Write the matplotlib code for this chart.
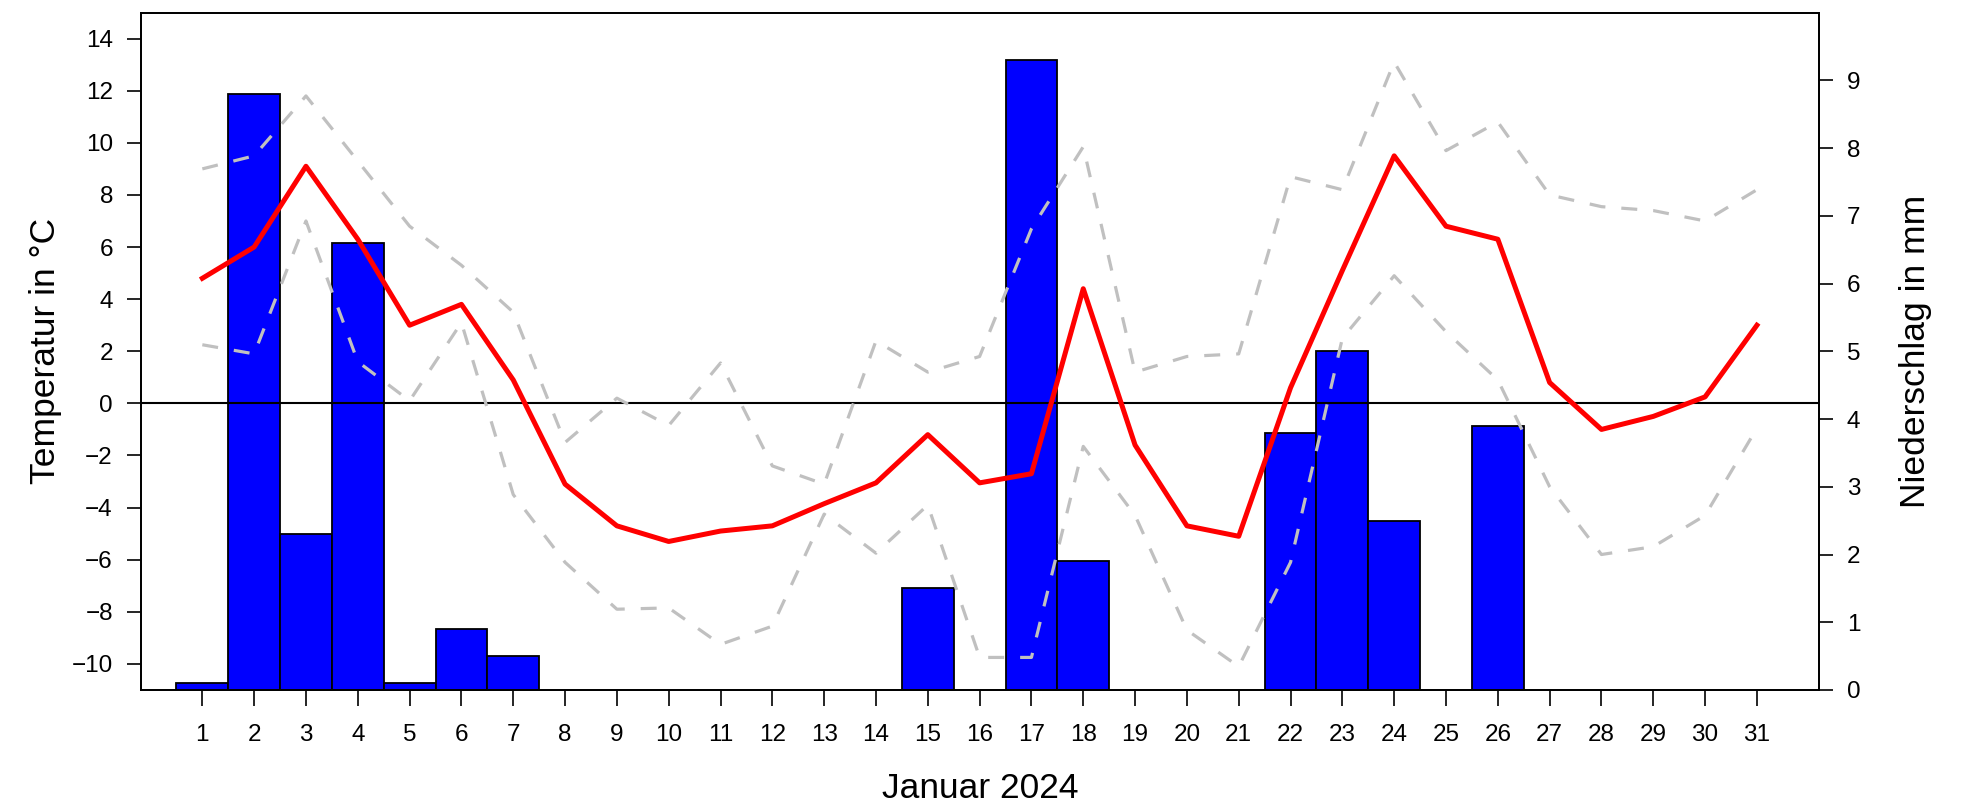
import numpy as np
import matplotlib
matplotlib.use("Agg")
import matplotlib.pyplot as plt

plt.rcParams['font.family'] = ['Liberation Sans', 'DejaVu Sans']

# Tageswerte Januar 2024
days = np.arange(1, 32)
t_mean = [4.8, 6.0, 9.1, 6.3, 3.0, 3.8, 0.9, -3.1, -4.7, -5.3, -4.9, -4.7, -3.85,
          -3.05, -1.2, -3.05, -2.7, 4.4, -1.6, -4.7, -5.1, 0.6, 5.1, 9.5, 6.8,
          6.3, 0.8, -1.0, -0.5, 0.25, 3.0]
t_max = [9.0, 9.5, 11.8, 9.3, 6.8, 5.3, 3.5, -1.5, 0.2, -0.85, 1.55, -2.4, -3.1,
         2.4, 1.2, 1.8, 6.7, 9.85, 1.2, 1.8, 1.9, 8.7, 8.2, 13.1, 9.7, 10.8,
         8.0, 7.55, 7.4, 7.0, 8.2]
t_min = [2.25, 1.9, 7.0, 1.6, 0.1, 3.1, -3.5, -6.1, -7.9, -7.85, -9.25, -8.55,
         -4.25, -5.75, -3.9, -9.75, -9.75, -1.65, -4.3, -8.7, -10.1, -6.1, 2.5,
         4.9, 2.75, 0.9, -3.2, -5.8, -5.5, -4.3, -0.95]
precip = [0.1, 8.8, 2.3, 6.6, 0.1, 0.9, 0.5, 0, 0, 0, 0, 0, 0, 0, 1.5, 0, 9.3,
          1.9, 0, 0, 0, 3.8, 5.0, 2.5, 0, 3.9, 0, 0, 0, 0, 0]

fig = plt.figure(figsize=(19.7, 8.09), dpi=100)
ax = fig.add_axes([0.0714, 0.1471, 0.852, 0.8374])
ax2 = ax.twinx()
ax.set_zorder(ax2.get_zorder() + 1)
ax.patch.set_visible(False)

# Niederschlag als Balken (rechte Achse)
p = np.array(precip)
wet = p > 0
ax2.bar(days[wet], p[wet], width=1.0, color='#0000ff', edgecolor='black',
        linewidth=1.3)
ax2.set_ylim(0, 10)
ax2.set_yticks(range(0, 10))
ax2.set_ylabel('Niederschlag in mm', fontsize=25.5)
ax2.yaxis.set_label_coords(1.0576, 0.5)
ax2.yaxis.label.set_va('center')

# Temperaturen (linke Achse)
ax.axhline(0, color='black', linewidth=1.5, zorder=1)
dash = (0, (5, 5))
ax.plot(days, t_max, color='#c0c0c0', linewidth=2.3, linestyle=dash)
ax.plot(days, t_min, color='#c0c0c0', linewidth=2.3, linestyle=dash)
ax.plot(days, t_mean, color='#ff0000', linewidth=3.6)
ax.set_ylim(-11, 15)
ax.set_yticks(range(-10, 15, 2))
ax.set_xlim(-0.19, 32.2)
ax.set_xticks(days)
ax.set_ylabel('Temperatur in °C', fontsize=25.5)
ax.yaxis.set_label_coords(-0.0566, 0.5)
ax.yaxis.label.set_va('center')
ax.set_xlabel('Januar 2024', fontsize=25.5)
ax.xaxis.set_label_coords(0.5, -0.145)
ax.xaxis.label.set_va('center')

ax.tick_params(axis='y', labelsize=17.5, length=10, width=1.2, pad=10)
ax.tick_params(axis='x', labelsize=17.5, length=11.5, width=1.2, pad=13)
ax2.tick_params(axis='y', labelsize=17.5, length=10, width=1.2, pad=10)
for a in (ax, ax2):
    for s in a.spines.values():
        s.set_linewidth(1.3)

fig.savefig('out.png', dpi=100)
